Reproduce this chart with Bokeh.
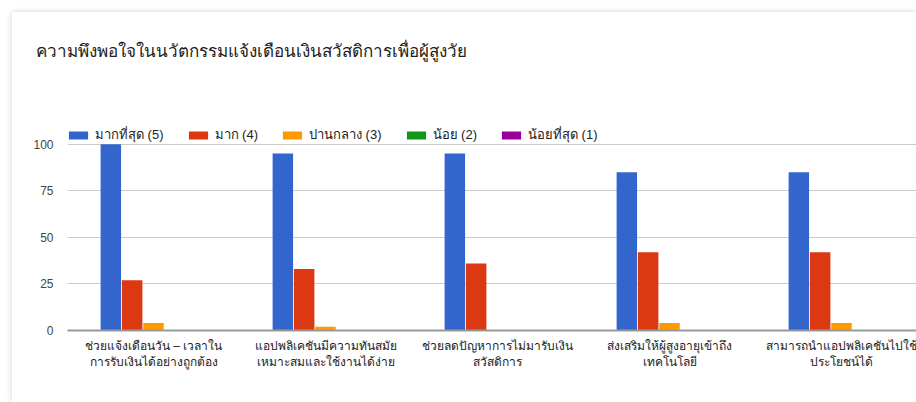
from bokeh.plotting import figure
from bokeh.models import Range1d, FixedTicker, Legend, LegendItem, ColumnDataSource
from bokeh.transform import dodge
from bokeh.embed import file_html
from bokeh.resources import INLINE

title_text = "ความพึงพอใจในนวัตกรรมแจ้งเดือนเงินสวัสดิการเพื่อผู้สูงวัย"
categories = [
    "ช่วยแจ้งเดือนวัน – เวลาใน\nการรับเงินได้อย่างถูกต้อง",
    "แอปพลิเคชันมีความทันสมัย\nเหมาะสมและใช้งานได้ง่าย",
    "ช่วยลดปัญหาการไม่มารับเงิน\nสวัสดิการ",
    "ส่งเสริมให้ผู้สูงอายุเข้าถึง\nเทคโนโลยี",
    "สามารถนำแอปพลิเคชันไปใช้\nประโยชน์ได้",
]
series_names = ["มากที่สุด (5)", "มาก (4)", "ปานกลาง (3)", "น้อย (2)", "น้อยที่สุด (1)"]
very_high = [100, 95, 95, 85, 85]
high = [27, 33, 36, 42, 42]
moderate = [4, 2, 0, 4, 4]
low = [0, 0, 0, 0, 0]
very_low = [0, 0, 0, 0, 0]
colors = ["#3366cc", "#dc3912", "#ff9900", "#109618", "#990099"]
y_ticks = [0, 25, 50, 75, 100]

FONT = "Arial, 'Liberation Sans', 'Noto Sans', sans-serif"

idx = list(range(len(categories)))
source = ColumnDataSource(dict(x=idx, s0=very_high, s1=high, s2=moderate, s3=low, s4=very_low))

# y range extends above 100 so the legend can sit over the top gridline inside the frame
p = figure(width=904, height=390, x_range=Range1d(-0.5, 4.436), y_range=Range1d(0, 134.26),
           output_backend="svg", toolbar_location=None,
           min_border_left=55, min_border_right=0, min_border_top=68, min_border_bottom=72,
           title=title_text)
p.background_fill_color = "white"
p.border_fill_color = "white"
p.outline_line_color = None
p.styles = {"box-shadow": "0 0 6px rgba(0,0,0,0.18)", "transform": "translate(12px, 12px)"}

p.title.text_font = FONT
p.title.text_font_size = "17px"
p.title.text_font_style = "normal"
p.title.text_color = "#212121"
p.title.align = "left"
p.title.offset = -32
p.title.standoff = 40

offsets = [-0.248, -0.124, 0.0, 0.124, 0.248]
renderers = []
for i in range(5):
    r = p.vbar(x=dodge("x", offsets[i], range=p.x_range), top="s%d" % i, width=0.119,
               source=source, fill_color=colors[i], line_color=None)
    renderers.append(r)

legend = Legend(items=[LegendItem(label=series_names[i], renderers=[renderers[i]]) for i in range(5)],
                location=(-1, 185), orientation="horizontal", glyph_width=24, glyph_height=10,
                label_standoff=5, spacing=22, padding=0, margin=0, border_line_color=None,
                background_fill_alpha=0, label_text_font=FONT, label_text_font_size="13px",
                label_text_color="#222222")
p.add_layout(legend)

p.xgrid.grid_line_color = None
p.ygrid.grid_line_color = "#cccccc"
p.ygrid.ticker = FixedTicker(ticks=y_ticks)

p.yaxis.ticker = FixedTicker(ticks=y_ticks)
p.yaxis.axis_line_color = None
p.yaxis.major_tick_line_color = None
p.yaxis.minor_tick_line_color = None
p.yaxis.major_label_standoff = 8
p.yaxis.major_label_text_font = FONT
p.yaxis.major_label_text_font_size = "12px"
p.yaxis.major_label_text_color = "#444444"

p.xaxis.ticker = FixedTicker(ticks=idx)
p.xaxis.major_label_overrides = {i: categories[i] for i in idx}
p.xaxis.axis_line_color = "#999999"
p.xaxis.axis_line_width = 2
p.xaxis.major_tick_line_color = None
p.xaxis.minor_tick_line_color = None
p.xaxis.major_label_standoff = 2
p.xaxis.major_label_text_font = FONT
p.xaxis.major_label_text_font_size = "12px"
p.xaxis.major_label_text_color = "#222222"

html = file_html(p, INLINE)
html = html.replace("<body>", '<body style="background:#f1f1f1;overflow:hidden">', 1)
open("out.html", "w").write(html)
